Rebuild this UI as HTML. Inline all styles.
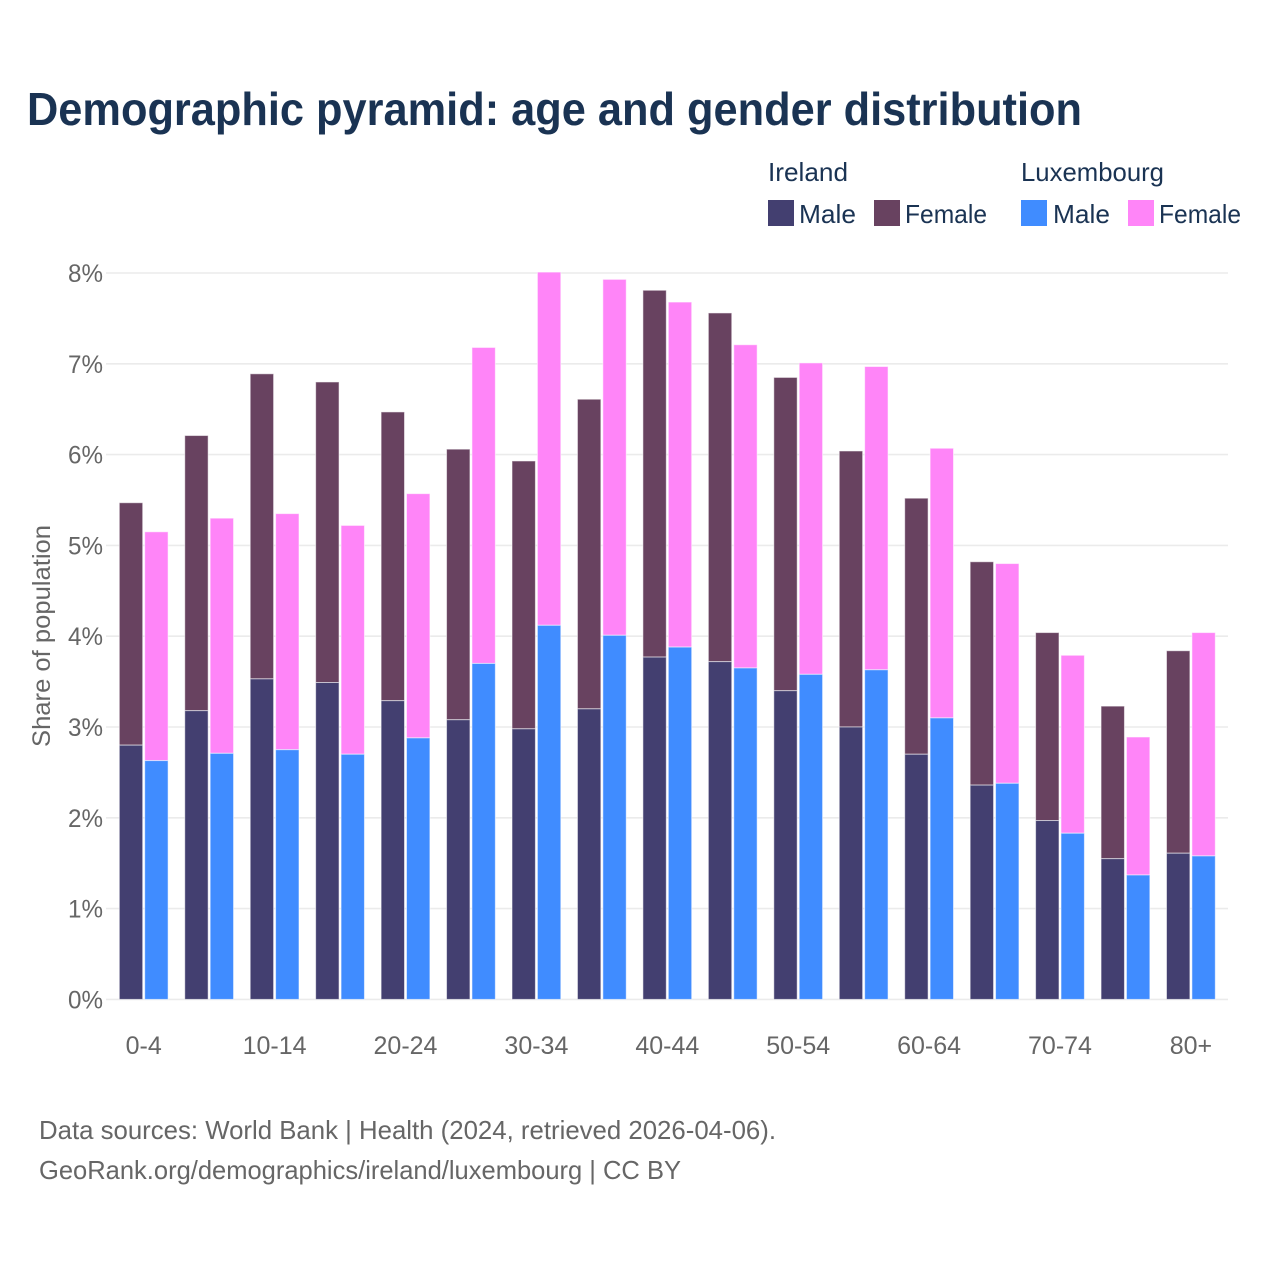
<!DOCTYPE html>
<html lang="en">
<head>
<meta charset="utf-8">
<title>Demographic pyramid</title>
<style>
html,body{margin:0;padding:0;background:#fff;}
svg{display:block;font-family:"Liberation Sans",sans-serif;}
</style>
</head>
<body>
<svg id="chart" width="1280" height="1280" viewBox="0 0 1280 1280" xmlns="http://www.w3.org/2000/svg">
  <rect width="1280" height="1280" fill="#fff"/>
  <text x="27" y="125" font-size="46" font-weight="700" fill="#1a3353" textLength="1055" lengthAdjust="spacingAndGlyphs">Demographic pyramid: age and gender distribution</text>

  <g font-size="26" fill="#1a3353">
    <text x="768" y="181" textLength="80" lengthAdjust="spacingAndGlyphs">Ireland</text>
    <text x="1021" y="181" textLength="143" lengthAdjust="spacingAndGlyphs">Luxembourg</text>
    <rect x="768" y="200" width="26" height="26" fill="#433f70"/>
    <text x="799" y="223" textLength="57" lengthAdjust="spacingAndGlyphs">Male</text>
    <rect x="874" y="200" width="26" height="26" fill="#684260"/>
    <text x="905" y="223" textLength="82" lengthAdjust="spacingAndGlyphs">Female</text>
    <rect x="1021" y="200" width="26" height="26" fill="#408cff"/>
    <text x="1053" y="223" textLength="57" lengthAdjust="spacingAndGlyphs">Male</text>
    <rect x="1128" y="200" width="26" height="26" fill="#ff85f8"/>
    <text x="1159" y="223" textLength="82" lengthAdjust="spacingAndGlyphs">Female</text>
  </g>

  <g id="grid"></g>
  <g id="bars"></g>
  <g id="yticks"></g>
  <g id="xticks"></g>

  <text transform="translate(50,636) rotate(-90)" text-anchor="middle" font-size="25" fill="#666" textLength="222" lengthAdjust="spacingAndGlyphs">Share of population</text>

  <text x="39" y="1139" font-size="26" fill="#666" textLength="737" lengthAdjust="spacingAndGlyphs">Data sources: World Bank | Health (2024, retrieved 2026-04-06).</text>
  <text x="39" y="1179" font-size="26" fill="#666" textLength="642" lengthAdjust="spacingAndGlyphs">GeoRank.org/demographics/ireland/luxembourg | CC BY</text>
</svg>
<script>
const ageGroups = ['0-4','5-9','10-14','15-19','20-24','25-29','30-34','35-39','40-44','45-49','50-54','55-59','60-64','65-69','70-74','75-79','80+'];
const shownAgeLabels = ['0-4','10-14','20-24','30-34','40-44','50-54','60-64','70-74','80+'];
const irelandMale = [2.80,3.18,3.53,3.49,3.29,3.08,2.98,3.20,3.77,3.72,3.40,3.00,2.70,2.36,1.97,1.55,1.61];
const irelandFemale = [2.67,3.03,3.36,3.31,3.18,2.98,2.95,3.41,4.04,3.84,3.45,3.04,2.82,2.46,2.07,1.68,2.23];
const luxembourgMale = [2.63,2.71,2.75,2.70,2.88,3.70,4.12,4.01,3.88,3.65,3.58,3.63,3.10,2.38,1.83,1.37,1.58];
const luxembourgFemale = [2.52,2.59,2.60,2.52,2.69,3.48,3.89,3.92,3.80,3.56,3.43,3.34,2.97,2.42,1.96,1.52,2.46];
const yTicks = [0,1,2,3,4,5,6,7,8];

const NS = 'http://www.w3.org/2000/svg';
const plotBottom = 999.4, plotTop = 273, maxY = 8;
const firstCenter = 143.7, step = 65.45, barW = 23.4, barOffset = 1;
function yScale(v){ return plotBottom - (v / maxY) * (plotBottom - plotTop); }
function xScale(i){ return firstCenter + i * step; }
function make(tag, attrs, parent){
  const el = document.createElementNS(NS, tag);
  for (const k in attrs) el.setAttribute(k, attrs[k]);
  parent.appendChild(el);
  return el;
}
const gridG = document.getElementById('grid');
const barsG = document.getElementById('bars');
const yG = document.getElementById('yticks');
const xG = document.getElementById('xticks');

yTicks.forEach(function(t){
  const line = make('line', {x1:106, x2:1228, y1:yScale(t), y2:yScale(t), stroke:'#ebebeb', 'stroke-width':1.6}, gridG);
  
  
  const label = make('text', {x:103, y:yScale(t)+9, 'text-anchor':'end', 'font-size':25, fill:'#666', textLength:35, lengthAdjust:'spacingAndGlyphs'}, yG);
  
  
  label.textContent = t + '%';
});

function drawStack(i, x, male, female, maleColor, femaleColor, country){
  const yM = yScale(male), yT = yScale(male + female);
  const edge = {stroke:'#fff', 'stroke-width':1, 'stroke-opacity':0.55};
  const f = make('rect', Object.assign({x:x, y:yT, width:barW, height:yM - yT, fill:femaleColor}, edge), barsG);
  
  
  f.setAttribute('data-group', country + '-' + ageGroups[i]);
  const m = make('rect', Object.assign({x:x, y:yM, width:barW, height:plotBottom - yM, fill:maleColor}, edge), barsG);
  
  
  m.setAttribute('data-group', country + '-' + ageGroups[i]);
}

ageGroups.forEach(function(g, i){
  const c = xScale(i);
  drawStack(i, c - barOffset - barW, irelandMale[i], irelandFemale[i], '#433f70', '#684260', 'ireland');
  drawStack(i, c + barOffset, luxembourgMale[i], luxembourgFemale[i], '#408cff', '#ff85f8', 'luxembourg');
  if (shownAgeLabels.indexOf(g) >= 0) {
    const t = make('text', {x:c, y:1054, 'text-anchor':'middle', 'font-size':25, fill:'#666'}, xG);
    
    
    t.textContent = g;
  }
});
</script>
</body>
</html>
